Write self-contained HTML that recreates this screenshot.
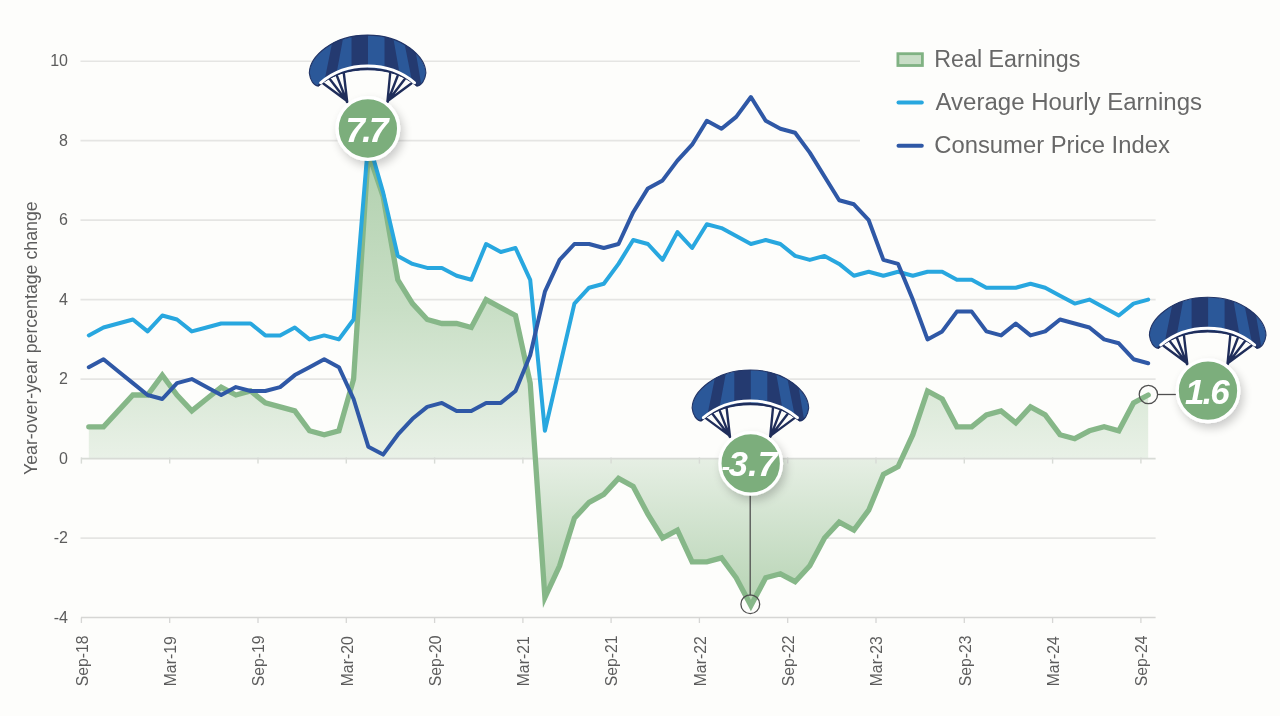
<!DOCTYPE html>
<html><head><meta charset="utf-8"><title>Real Earnings</title>
<style>
html,body{margin:0;padding:0;background:#fdfdfb;}
body{width:1280px;height:716px;overflow:hidden;position:relative;font-family:"Liberation Sans",sans-serif;}
svg{position:absolute;left:0;top:0;display:block}
.grid line{stroke:#e5e5e3;stroke-width:1.7}
.axis line{stroke:#d6d6d4;stroke-width:1.3}
.ylab text{font-size:16px;fill:#5c5c5c}
.xlab text{font-size:17px;fill:#5c5c5c}
.legend text{font-size:23.500px;fill:#686868}
.num{font-weight:bold;font-style:italic;fill:#fff;font-size:35px;letter-spacing:-2px}
</style></head>
<body>
<svg width="1280" height="716" viewBox="0 0 1280 716">
<defs>
<linearGradient id="ga" x1="0" y1="152.600" x2="0" y2="605.600" gradientUnits="userSpaceOnUse">
<stop offset="0" stop-color="#b1d0ae"/><stop offset=".35" stop-color="#c9dfc6"/><stop offset=".6754" stop-color="#e9f1e7"/><stop offset=".6755" stop-color="#e6efe4"/><stop offset="1" stop-color="#b6d3b3"/>
</linearGradient>
<filter id="sh" x="-40%" y="-40%" width="190%" height="190%"><feGaussianBlur in="SourceAlpha" stdDeviation="5"/><feOffset dx="3" dy="5"/><feComponentTransfer><feFuncA type="linear" slope=".2"/></feComponentTransfer><feMerge><feMergeNode/><feMergeNode in="SourceGraphic"/></feMerge></filter>
<clipPath id="cp"><path id="cpp" d="M318,86 C313.600,85.700 310.100,80 309.300,73 C309.800,57 332,35.100 367.600,35.100 C403.200,35.100 425.400,57 425.900,73 C425.100,80 421.600,85.700 417.200,86 C404.700,75.800 388.500,69.700 367.600,69.700 C346.700,69.700 330.500,75.800 318,86 Z"/></clipPath>
<g id="para">
 <g stroke="#1f2d5a" stroke-width="2.400" fill="none" stroke-linecap="round">
  <path d="M323.300,83.500 L347,101 M329.800,79 L347,101.500 M337,76 L347,102 M343.800,73 L347.200,102"/>
  <path d="M411.300,83.500 L387.600,101 M404.800,79 L387.600,101.500 M397.600,76 L387.600,102 M390.200,73 L387.400,102"/>
 </g>
 <g clip-path="url(#cp)">
  <rect x="300" y="30" width="135" height="62" fill="#2b5899"/>
  <path d="M334.700,30 L344.600,30 L333.500,90 L322.600,90Z M351.500,30 L368,30 L368,90 L351.500,90Z M384.500,30 L391.900,30 L402.500,90 L384.500,90Z M401.800,30 L412,30 L422.200,90 L413.800,90Z" fill="#243a70"/>
 </g>
 <use href="#cpp" fill="none" stroke="#223466" stroke-width="1.100" stroke-linejoin="round"/>
 <path d="M318.300,85.600 C330.600,75.300 346.700,68.900 367.600,68.900 C388.500,68.900 404.600,75.300 416.900,85.600" fill="none" stroke="#1f2d5a" stroke-width="1.800" stroke-linecap="round"/>
 <path d="M320.600,82.800 C332.500,72.600 347.200,66 367.600,66 C388,66 402.700,72.600 414.600,82.800" fill="none" stroke="#fff" stroke-width="2.900" stroke-linecap="round"/>
</g>
</defs>
<g class="grid"><line x1="80.5" x2="860" y1="61.25" y2="61.25"/><line x1="80.5" x2="860" y1="140.71" y2="140.71"/><line x1="80.5" x2="1155.6" y1="220.18" y2="220.18"/><line x1="80.5" x2="1155.6" y1="299.64" y2="299.64"/><line x1="80.5" x2="1155.6" y1="379.11" y2="379.11"/><line x1="80.5" x2="1155.6" y1="538.04" y2="538.04"/></g>
<g class="axis"><line x1="81" x2="1155.6" y1="617.50" y2="617.50"/><line x1="81.4" x2="81.4" y1="617.5" y2="623.0"/><line x1="169.7" x2="169.7" y1="617.5" y2="623.0"/><line x1="258.0" x2="258.0" y1="617.5" y2="623.0"/><line x1="346.3" x2="346.3" y1="617.5" y2="623.0"/><line x1="434.6" x2="434.6" y1="617.5" y2="623.0"/><line x1="522.9" x2="522.9" y1="617.5" y2="623.0"/><line x1="611.1" x2="611.1" y1="617.5" y2="623.0"/><line x1="699.4" x2="699.4" y1="617.5" y2="623.0"/><line x1="787.7" x2="787.7" y1="617.5" y2="623.0"/><line x1="876.0" x2="876.0" y1="617.5" y2="623.0"/><line x1="964.3" x2="964.3" y1="617.5" y2="623.0"/><line x1="1052.6" x2="1052.6" y1="617.5" y2="623.0"/><line x1="1140.9" x2="1140.9" y1="617.5" y2="623.0"/></g>
<g class="ylab"><text x="68" y="66.2" text-anchor="end">10</text><text x="68" y="145.7" text-anchor="end">8</text><text x="68" y="225.2" text-anchor="end">6</text><text x="68" y="304.6" text-anchor="end">4</text><text x="68" y="384.1" text-anchor="end">2</text><text x="68" y="463.6" text-anchor="end">0</text><text x="68" y="543.0" text-anchor="end">-2</text><text x="68" y="622.5" text-anchor="end">-4</text></g>
<g class="xlab"><text transform="translate(87.6,686.300) rotate(-90) scale(.93,1)">Sep-18</text><text transform="translate(175.9,686.300) rotate(-90) scale(.93,1)">Mar-19</text><text transform="translate(264.2,686.300) rotate(-90) scale(.93,1)">Sep-19</text><text transform="translate(352.5,686.300) rotate(-90) scale(.93,1)">Mar-20</text><text transform="translate(440.8,686.300) rotate(-90) scale(.93,1)">Sep-20</text><text transform="translate(529.1,686.300) rotate(-90) scale(.93,1)">Mar-21</text><text transform="translate(617.3,686.300) rotate(-90) scale(.93,1)">Sep-21</text><text transform="translate(705.6,686.300) rotate(-90) scale(.93,1)">Mar-22</text><text transform="translate(793.9,686.300) rotate(-90) scale(.93,1)">Sep-22</text><text transform="translate(882.2,686.300) rotate(-90) scale(.93,1)">Mar-23</text><text transform="translate(970.5,686.300) rotate(-90) scale(.93,1)">Sep-23</text><text transform="translate(1058.8,686.300) rotate(-90) scale(.93,1)">Mar-24</text><text transform="translate(1147.1,686.300) rotate(-90) scale(.93,1)">Sep-24</text></g>
<text transform="translate(37.300,475) rotate(-90)" font-size="17.750" fill="#5c5c5c">Year-over-year percentage change</text>
<path d="M88.8,426.8 L103.5,426.8 L118.2,410.9 L132.9,395.0 L147.6,395.0 L162.3,375.1 L177.0,395.0 L191.8,410.9 L206.5,399.0 L221.2,387.1 L235.9,395.0 L250.6,391.0 L265.3,402.9 L280.1,406.9 L294.8,410.9 L309.5,430.8 L324.2,434.7 L338.9,430.8 L353.6,379.1 L368.3,152.6 L383.1,196.3 L397.8,279.8 L412.5,303.6 L427.2,319.5 L441.9,323.5 L456.6,323.5 L471.3,327.5 L486.1,299.6 L500.8,307.6 L515.5,315.5 L530.2,383.1 L544.9,597.6 L559.6,565.8 L574.4,518.2 L589.1,502.3 L603.8,494.3 L618.5,478.4 L633.2,486.4 L647.9,514.2 L662.6,538.0 L677.4,530.1 L692.1,561.9 L706.8,561.9 L721.5,557.9 L736.2,577.8 L750.9,605.6 L765.7,577.8 L780.4,573.8 L795.1,581.7 L809.8,565.8 L824.5,538.0 L839.2,522.1 L853.9,530.1 L868.7,510.2 L883.4,474.5 L898.1,466.5 L912.8,434.7 L927.5,391.0 L942.2,399.0 L956.9,426.8 L971.7,426.8 L986.4,414.9 L1001.1,410.9 L1015.8,422.8 L1030.5,406.9 L1045.2,414.9 L1060.0,434.7 L1074.7,438.7 L1089.4,430.8 L1104.1,426.8 L1118.8,430.8 L1133.5,402.9 L1148.2,395.0 L1148.2,458.6 L88.8,458.6 Z" fill="url(#ga)"/>
<g stroke="#d8dbd6" stroke-width="1.4"><line x1="81" x2="1155.6" y1="458.57" y2="458.57" stroke-width="1.7"/><line x1="81.4" x2="81.4" y1="457.4" y2="463.6"/><line x1="169.7" x2="169.7" y1="457.4" y2="463.6"/><line x1="258.0" x2="258.0" y1="457.4" y2="463.6"/><line x1="346.3" x2="346.3" y1="457.4" y2="463.6"/><line x1="434.6" x2="434.6" y1="457.4" y2="463.6"/><line x1="522.9" x2="522.9" y1="457.4" y2="463.6"/><line x1="611.1" x2="611.1" y1="457.4" y2="463.6"/><line x1="699.4" x2="699.4" y1="457.4" y2="463.6"/><line x1="787.7" x2="787.7" y1="457.4" y2="463.6"/><line x1="876.0" x2="876.0" y1="457.4" y2="463.6"/><line x1="964.3" x2="964.3" y1="457.4" y2="463.6"/><line x1="1052.6" x2="1052.6" y1="457.4" y2="463.6"/><line x1="1140.9" x2="1140.9" y1="457.4" y2="463.6"/></g>
<path d="M88.8,426.8 L103.5,426.8 L118.2,410.9 L132.9,395.0 L147.6,395.0 L162.3,375.1 L177.0,395.0 L191.8,410.9 L206.5,399.0 L221.2,387.1 L235.9,395.0 L250.6,391.0 L265.3,402.9 L280.1,406.9 L294.8,410.9 L309.5,430.8 L324.2,434.7 L338.9,430.8 L353.6,379.1 L368.3,152.6 L383.1,196.3 L397.8,279.8 L412.5,303.6 L427.2,319.5 L441.9,323.5 L456.6,323.5 L471.3,327.5 L486.1,299.6 L500.8,307.6 L515.5,315.5 L530.2,383.1 L544.9,597.6 L559.6,565.8 L574.4,518.2 L589.1,502.3 L603.8,494.3 L618.5,478.4 L633.2,486.4 L647.9,514.2 L662.6,538.0 L677.4,530.1 L692.1,561.9 L706.8,561.9 L721.5,557.9 L736.2,577.8 L750.9,605.6 L765.7,577.8 L780.4,573.8 L795.1,581.7 L809.8,565.8 L824.5,538.0 L839.2,522.1 L853.9,530.1 L868.7,510.2 L883.4,474.5 L898.1,466.5 L912.8,434.7 L927.5,391.0 L942.2,399.0 L956.9,426.8 L971.7,426.8 L986.4,414.9 L1001.1,410.9 L1015.8,422.8 L1030.5,406.9 L1045.2,414.9 L1060.0,434.7 L1074.7,438.7 L1089.4,430.8 L1104.1,426.8 L1118.8,430.8 L1133.5,402.9 L1148.2,395.0" fill="none" stroke="#86b788" stroke-width="5.300" stroke-linejoin="miter" stroke-miterlimit="10" stroke-linecap="round"/>
<path d="M88.8,335.4 L103.5,327.5 L118.2,323.5 L132.9,319.5 L147.6,331.4 L162.3,315.5 L177.0,319.5 L191.8,331.4 L206.5,327.5 L221.2,323.5 L235.9,323.5 L250.6,323.5 L265.3,335.4 L280.1,335.4 L294.8,327.5 L309.5,339.4 L324.2,335.4 L338.9,339.4 L353.6,319.5 L368.3,140.7 L383.1,192.4 L397.8,255.9 L412.5,263.9 L427.2,267.9 L441.9,267.9 L456.6,275.8 L471.3,279.8 L486.1,244.0 L500.8,252.0 L515.5,248.0 L530.2,279.8 L544.9,430.8 L559.6,367.2 L574.4,303.6 L589.1,287.7 L603.8,283.8 L618.5,263.9 L633.2,240.0 L647.9,244.0 L662.6,259.9 L677.4,232.1 L692.1,248.0 L706.8,224.2 L721.5,228.1 L736.2,236.1 L750.9,244.0 L765.7,240.0 L780.4,244.0 L795.1,255.9 L809.8,259.9 L824.5,255.9 L839.2,263.9 L853.9,275.8 L868.7,271.8 L883.4,275.8 L898.1,271.8 L912.8,275.8 L927.5,271.8 L942.2,271.8 L956.9,279.8 L971.7,279.8 L986.4,287.7 L1001.1,287.7 L1015.8,287.7 L1030.5,283.8 L1045.2,287.7 L1060.0,295.7 L1074.7,303.6 L1089.4,299.6 L1104.1,307.6 L1118.8,315.5 L1133.5,303.6 L1148.2,299.6" fill="none" stroke="#28a7df" stroke-width="4" stroke-linejoin="round" stroke-linecap="round"/>
<path d="M88.8,367.2 L103.5,359.2 L118.2,371.2 L132.9,383.1 L147.6,395.0 L162.3,399.0 L177.0,383.1 L191.8,379.1 L206.5,387.1 L221.2,395.0 L235.9,387.1 L250.6,391.0 L265.3,391.0 L280.1,387.1 L294.8,375.1 L309.5,367.2 L324.2,359.2 L338.9,367.2 L353.6,399.0 L368.3,446.7 L383.1,454.6 L397.8,434.7 L412.5,418.8 L427.2,406.9 L441.9,402.9 L456.6,410.9 L471.3,410.9 L486.1,402.9 L500.8,402.9 L515.5,391.0 L530.2,355.3 L544.9,291.7 L559.6,259.9 L574.4,244.0 L589.1,244.0 L603.8,248.0 L618.5,244.0 L633.2,212.2 L647.9,188.4 L662.6,180.4 L677.4,160.6 L692.1,144.7 L706.8,120.8 L721.5,128.8 L736.2,116.9 L750.9,97.0 L765.7,120.8 L780.4,128.8 L795.1,132.8 L809.8,152.6 L824.5,176.5 L839.2,200.3 L853.9,204.3 L868.7,220.2 L883.4,259.9 L898.1,263.9 L912.8,299.6 L927.5,339.4 L942.2,331.4 L956.9,311.6 L971.7,311.6 L986.4,331.4 L1001.1,335.4 L1015.8,323.5 L1030.5,335.4 L1045.2,331.4 L1060.0,319.5 L1074.7,323.5 L1089.4,327.5 L1104.1,339.4 L1118.8,343.3 L1133.5,359.2 L1148.2,363.2" fill="none" stroke="#2f58a6" stroke-width="4" stroke-linejoin="round" stroke-linecap="round"/>
<g class="legend">
<rect x="897.900" y="53.700" width="24.500" height="11.800" fill="#c8ddc6" stroke="#80b283" stroke-width="2.800"/>
<line x1="898.500" x2="921.800" y1="102.600" y2="102.600" stroke="#28a7df" stroke-width="4" stroke-linecap="round"/>
<line x1="898.500" x2="921.800" y1="145.800" y2="145.800" stroke="#2f58a6" stroke-width="4" stroke-linecap="round"/>
<text x="934.300" y="67" textLength="146" lengthAdjust="spacingAndGlyphs">Real Earnings</text>
<text x="935.500" y="110" textLength="266.500" lengthAdjust="spacingAndGlyphs">Average Hourly Earnings</text>
<text x="934.300" y="152.800" textLength="235.500" lengthAdjust="spacingAndGlyphs">Consumer Price Index</text>
</g>
<g stroke="#505050" stroke-width="1.300" fill="none">
<line x1="750.200" y1="495" x2="750.200" y2="595.500"/><circle cx="750.300" cy="604.200" r="9.400"/>
<line x1="1158" y1="394.500" x2="1177" y2="394.500"/><circle cx="1148.400" cy="394.500" r="9.200"/>
</g>
<use href="#para"/>
<use href="#para" x="382.800" y="334.900"/>
<use href="#para" x="840.100" y="262.200"/>
<g filter="url(#sh)"><circle cx="367.900" cy="128.500" r="30.800" fill="#7bae7c" stroke="#fff" stroke-width="3.300"/></g>
<g filter="url(#sh)"><circle cx="750.700" cy="463.400" r="30.800" fill="#7bae7c" stroke="#fff" stroke-width="3.300"/></g>
<g filter="url(#sh)"><circle cx="1208" cy="390.700" r="30.800" fill="#7bae7c" stroke="#fff" stroke-width="3.300"/></g>
<text class="num" x="345.400" y="142" style="letter-spacing:-2.800px">7.7</text>
<text class="num" x="721.500" y="474.500" style="font-size:26px;letter-spacing:0">-</text>
<text class="num" x="728.500" y="476.300" style="letter-spacing:0">3.7</text>
<text class="num" x="1185" y="403.600">1.6</text>
</svg>
</body></html>
